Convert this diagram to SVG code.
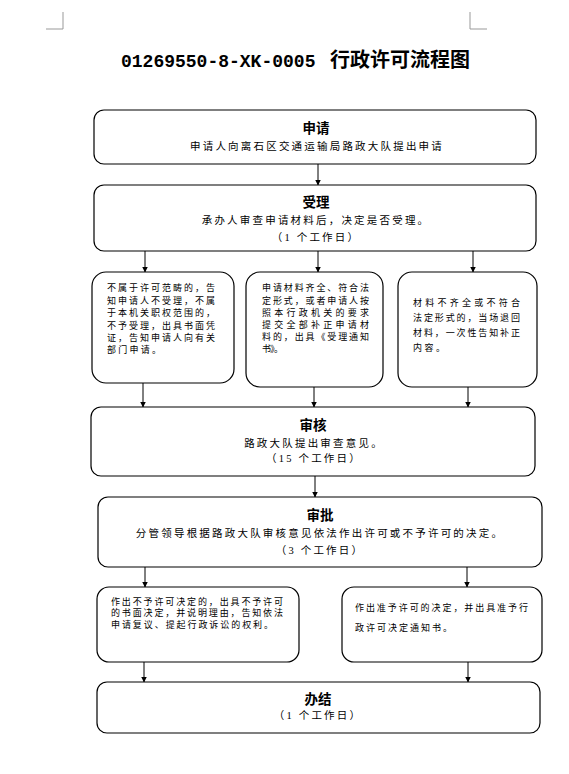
<svg xmlns="http://www.w3.org/2000/svg" width="569" height="774" viewBox="0 0 569 774">
<defs>
<marker id="ah" markerWidth="6" markerHeight="7" refX="5.5" refY="3.5" orient="auto" markerUnits="userSpaceOnUse">
<path d="M0,0.5 L6,3.5 L0,6.5 Z" fill="#000"/>
</marker>
<style>
.box{fill:#fff;stroke:#000;stroke-width:1.2}
.h{font-family:"Noto Sans CJK SC","Liberation Sans",sans-serif;font-size:13.5px;font-weight:bold;text-anchor:middle;fill:#000}
.s{font-family:"Liberation Serif","Noto Sans CJK SC",serif;font-size:10.5px;letter-spacing:2.2px;text-anchor:middle;fill:#000}
.t{font-family:"Noto Sans CJK SC",sans-serif;font-size:9px;fill:#000}
.c{stroke:#000;stroke-width:1;fill:none}
.a{stroke:#000;stroke-width:1;fill:none;marker-end:url(#ah)}
.mk{stroke:#999;stroke-width:1;fill:none}
</style>
</defs>
<rect width="569" height="774" fill="#fff"/>
<path class="mk" d="M63,12 V29 H46 M470,12 V29 H487"/>
<text x="121" y="67" font-weight="bold" fill="#000"><tspan font-family="Liberation Mono,monospace" font-size="18">01269550-8-XK-0005 </tspan><tspan x="330" font-family="Noto Sans CJK SC,sans-serif" font-size="20">行政许可流程图</tspan></text>

<g id="connectors">
<line class="a" x1="318" y1="164" x2="318" y2="185"/>
<line class="a" x1="145" y1="251" x2="145" y2="272"/>
<line class="a" x1="318" y1="251" x2="318" y2="272"/>
<line class="a" x1="473" y1="251" x2="473" y2="272"/>
<line class="a" x1="143" y1="383" x2="143" y2="407"/>
<line class="a" x1="314" y1="387" x2="314" y2="407"/>
<line class="a" x1="468" y1="387" x2="468" y2="407"/>
<line class="a" x1="315" y1="476" x2="315" y2="497"/>
<line class="a" x1="145" y1="567" x2="145" y2="587"/>
<line class="a" x1="467" y1="567" x2="467" y2="587"/>
<line class="a" x1="144" y1="662" x2="144" y2="682"/>
<line class="a" x1="468" y1="662" x2="468" y2="682"/>
</g>

<g id="apply">
<rect class="box" x="94" y="110" width="442" height="54" rx="10"/>
<text class="h" x="316" y="133">申请</text>
<text class="s" x="317" y="150">申请人向离石区交通运输局路政大队提出申请</text>
</g>

<g id="accept">
<rect class="box" x="94" y="185" width="442" height="66" rx="10"/>
<text class="h" x="316" y="207">受理</text>
<text class="s" x="316" y="224">承办人审查申请材料后，决定是否受理。</text>
<text class="s" x="316" y="241">（1 个工作日）</text>
</g>

<g id="reject">
<rect class="box" x="92" y="272" width="142" height="111" rx="14"/>
<text class="t" x="107" y="291.3" textLength="108" lengthAdjust="spacing">不属于许可范畴的，告</text>
<text class="t" x="107" y="303.7" textLength="108" lengthAdjust="spacing">知申请人不受理，不属</text>
<text class="t" x="107" y="316.1" textLength="108" lengthAdjust="spacing">于本机关职权范围的，</text>
<text class="t" x="107" y="328.5" textLength="108" lengthAdjust="spacing">不予受理，出具书面凭</text>
<text class="t" x="107" y="340.9" textLength="108" lengthAdjust="spacing">证，告知申请人向有关</text>
<text class="t" x="107" y="353.3" textLength="54" lengthAdjust="spacing">部门申请。</text>
</g>

<g id="complete">
<rect class="box" x="246" y="272" width="137" height="115" rx="14"/>
<text class="t" x="262" y="291.3" textLength="107" lengthAdjust="spacing">申请材料齐全、符合法</text>
<text class="t" x="262" y="303.5" textLength="107" lengthAdjust="spacing">定形式，或者申请人按</text>
<text class="t" x="262" y="315.7" textLength="107" lengthAdjust="spacing">照本行政机关的要求</text>
<text class="t" x="262" y="327.9" textLength="107" lengthAdjust="spacing">提交全部补正申请材</text>
<text class="t" x="262" y="340.1" textLength="107" lengthAdjust="spacing">料的，出具《受理通知</text>
<text class="t" x="262" y="352.3" textLength="21" lengthAdjust="spacing">书》。</text>
</g>

<g id="incomplete">
<rect class="box" x="398" y="272" width="139" height="115" rx="14"/>
<text class="t" x="413" y="306.3" textLength="107" lengthAdjust="spacing">材料不齐全或不符合</text>
<text class="t" x="413" y="321.3" textLength="107" lengthAdjust="spacing">法定形式的，当场退回</text>
<text class="t" x="413" y="336.3" textLength="107" lengthAdjust="spacing">材料，一次性告知补正</text>
<text class="t" x="413" y="351.3" textLength="32" lengthAdjust="spacing">内容。</text>
</g>

<g id="review">
<rect class="box" x="91" y="407" width="444" height="69" rx="10"/>
<text class="h" x="313" y="430">审核</text>
<text class="s" x="314" y="447">路政大队提出审查意见。</text>
<text class="s" x="314" y="462">（15 个工作日）</text>
</g>

<g id="approve">
<rect class="box" x="98" y="497" width="444" height="70" rx="10"/>
<text class="h" x="320" y="520">审批</text>
<text class="s" x="320" y="537">分管领导根据路政大队审核意见依法作出许可或不予许可的决定。</text>
<text class="s" x="320" y="554">（3 个工作日）</text>
</g>

<g id="deny">
<rect class="box" x="97" y="587" width="202" height="75" rx="12"/>
<text class="t" x="111" y="604.5" textLength="172" lengthAdjust="spacing">作出不予许可决定的，出具不予许可</text>
<text class="t" x="111" y="616.2" textLength="172" lengthAdjust="spacing">的书面决定，并说明理由，告知依法</text>
<text class="t" x="111" y="627.9" textLength="162" lengthAdjust="spacing">申请复议、提起行政诉讼的权利。</text>
</g>

<g id="grant">
<rect class="box" x="342" y="587" width="200" height="75" rx="12"/>
<text class="t" x="355" y="610.5" textLength="173" lengthAdjust="spacing">作出准予许可的决定，并出具准予行</text>
<text class="t" x="355" y="630.5" textLength="97" lengthAdjust="spacing">政许可决定通知书。</text>
</g>

<g id="finish">
<rect class="box" x="97" y="682" width="443" height="51" rx="10"/>
<text class="h" x="318" y="704">办结</text>
<text class="s" x="318" y="719">（1 个工作日）</text>
</g>
</svg>
